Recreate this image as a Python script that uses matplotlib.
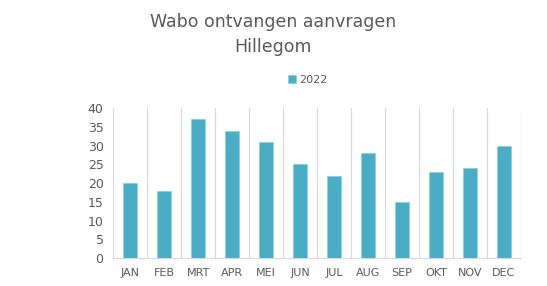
import matplotlib.pyplot as plt

# Monthly Wabo applications received, Hillegom 2022
months = ['JAN', 'FEB', 'MRT', 'APR', 'MEI', 'JUN', 'JUL', 'AUG', 'SEP', 'OKT', 'NOV', 'DEC']
values_2022 = [20, 18, 37, 34, 31, 25, 22, 28, 15, 23, 24, 30]

grey = '#595959'
plt.rcParams['font.family'] = ['DejaVu Sans']

fig = plt.figure(figsize=(5.47, 2.86), dpi=100)
ax = fig.add_axes([0.207, 0.098, 0.745, 0.524])

x = range(len(months))
ax.bar(x, values_2022, width=0.4, color='#4BACC6', edgecolor='#8fd0e0',
       linewidth=0.6, label='2022', zorder=3)

ax.set_xlim(-0.5, len(months) - 0.5)
ax.set_ylim(0, 40)
ax.set_yticks(range(0, 41, 5))
ax.tick_params(axis='y', length=0, labelsize=9, colors=grey, pad=7)
ax.set_xticks(list(x))
ax.set_xticklabels(months)
ax.tick_params(axis='x', length=0, labelsize=8, colors=grey, pad=7)

# vertical separators between categories
for b in range(len(months) + 1):
    ax.axvline(b - 0.5, color='#d9d9d9', linewidth=0.9, zorder=1)

for side in ['top', 'right', 'left']:
    ax.spines[side].set_visible(False)
ax.spines['bottom'].set_color('#d9d9d9')

fig.text(0.5, 0.923, 'Wabo ontvangen aanvragen', ha='center',
         va='center', fontsize=12.5, color=grey)
fig.text(0.5, 0.836, 'Hillegom', ha='center', va='center',
         fontsize=12.5, color=grey)

fig.legend(loc='center', bbox_to_anchor=(308 / 547, 1 - 80 / 286),
           frameon=False, fontsize=8, handlelength=0.7, handleheight=0.7,
           handletextpad=0.3, labelcolor=grey)

plt.savefig('out.png', dpi=100)
